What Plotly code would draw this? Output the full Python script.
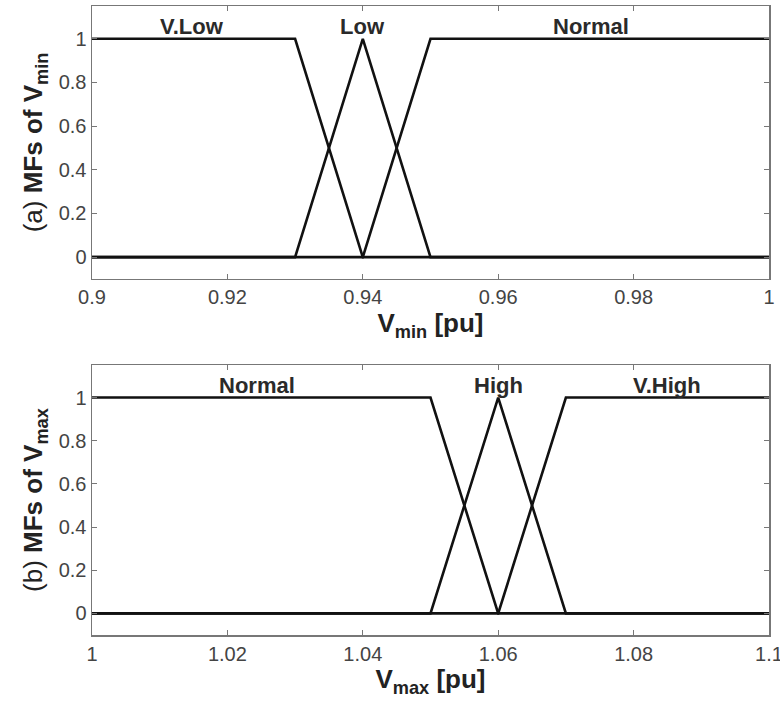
import plotly.graph_objects as go
from plotly.subplots import make_subplots

# Top panel: MFs of Vmin
vmin_x = [0.9, 0.93, 0.94, 0.95, 1.0]
vmin_vlow = [1, 1, 0, 0, 0]
vmin_low = [0, 0, 1, 0, 0]
vmin_normal = [0, 0, 0, 1, 1]
vmin_labels = ["V.Low", "Low", "Normal"]
vmin_label_x = [0.9148, 0.94, 0.9737]
vmin_ticks = [0.9, 0.92, 0.94, 0.96, 0.98, 1.0]
vmin_ticktext = ["0.9", "0.92", "0.94", "0.96", "0.98", "1"]

# Bottom panel: MFs of Vmax
vmax_x = [1.0, 1.05, 1.06, 1.07, 1.1]
vmax_normal = [1, 1, 0, 0, 0]
vmax_high = [0, 0, 1, 0, 0]
vmax_vhigh = [0, 0, 0, 1, 1]
vmax_labels = ["Normal", "High", "V.High"]
vmax_label_x = [1.0244, 1.06, 1.085]
vmax_ticks = [1.0, 1.02, 1.04, 1.06, 1.08, 1.1]
vmax_ticktext = ["1", "1.02", "1.04", "1.06", "1.08", "1.1"]

y_ticks = [0, 0.2, 0.4, 0.6, 0.8, 1]
y_ticktext = ["0", "0.2", "0.4", "0.6", "0.8", "1"]

fig = make_subplots(rows=2, cols=1, vertical_spacing=0.137)
line = dict(color="#111111", width=2.6)
for ys in (vmin_vlow, vmin_low, vmin_normal):
    fig.add_trace(go.Scatter(x=vmin_x, y=ys, mode="lines", line=line, showlegend=False), row=1, col=1)
for ys in (vmax_normal, vmax_high, vmax_vhigh):
    fig.add_trace(go.Scatter(x=vmax_x, y=ys, mode="lines", line=line, showlegend=False), row=2, col=1)

lab_font = dict(size=22, color="#2a2a2a", family="Liberation Sans")
for lab, lx in zip(vmin_labels, vmin_label_x):
    fig.add_annotation(x=lx, y=1.058, text="<b>" + lab + "</b>", showarrow=False,
                       font=lab_font, xref="x", yref="y")
for lab, lx in zip(vmax_labels, vmax_label_x):
    fig.add_annotation(x=lx, y=1.058, text="<b>" + lab + "</b>", showarrow=False,
                       font=lab_font, xref="x2", yref="y2")

axis_common = dict(showline=True, linecolor="#777", linewidth=1.5, mirror="ticks",
                   ticks="inside", ticklen=5, tickcolor="#777", showgrid=False, zeroline=False,
                   automargin=False, ticklabeloverflow="allow",
                   tickfont=dict(size=20, color="#444", family="Liberation Sans"))
title_font = dict(size=26, color="#222", family="Liberation Sans")

fig.update_xaxes(range=[0.9, 1.0000001], tickvals=vmin_ticks, ticktext=vmin_ticktext,
                 title=dict(text="<b>V<sub>min</sub> [pu]</b>", font=title_font, standoff=4),
                 row=1, col=1, **axis_common)
fig.update_xaxes(range=[1.0, 1.1000001], tickvals=vmax_ticks, ticktext=vmax_ticktext,
                 title=dict(text="<b>V<sub>max</sub> [pu]</b>", font=title_font, standoff=4),
                 row=2, col=1, **axis_common)
fig.update_yaxes(range=[-0.1, 1.15], tickvals=y_ticks, ticktext=y_ticktext,
                 title=dict(text="(a) <b>MFs of V<sub>min</sub></b>", font=title_font, standoff=8),
                 row=1, col=1, **axis_common)
fig.update_yaxes(range=[-0.1, 1.15], tickvals=y_ticks, ticktext=y_ticktext,
                 title=dict(text="(b) <b>MFs of V<sub>max</sub></b>", font=title_font, standoff=8),
                 row=2, col=1, **axis_common)

fig.update_layout(width=780, height=702, margin=dict(l=92, r=11, t=6, b=67),
                  plot_bgcolor="white", paper_bgcolor="white",
                  font=dict(family="Liberation Sans", color="#222"))
fig.update_layout(yaxis=dict(domain=[0.566, 1.0]), yaxis2=dict(domain=[0.0, 0.429]))

fig.write_html("out.html", config={"displayModeBar": False, "staticPlot": True},
               post_script="document.body.style.margin='0px';document.body.style.overflow='hidden';")
